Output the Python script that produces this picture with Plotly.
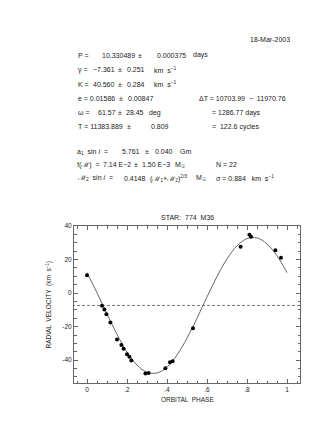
import plotly.graph_objects as go

# observed radial velocities (phase, km/s)
phase = [0.000, 0.075, 0.087, 0.097, 0.117, 0.150, 0.172, 0.183, 0.200, 0.212, 0.222,
         0.292, 0.308, 0.392, 0.415, 0.428, 0.530, 0.768, 0.812, 0.820, 0.942, 0.970]
rv = [10.6, -7.6, -9.8, -12.6, -17.6, -27.6, -31.0, -33.2, -36.4, -38.0, -40.2,
      -48.0, -47.6, -44.8, -41.2, -40.6, -21.0, 27.6, 34.8, 33.6, 25.6, 21.0]

# fitted orbit
curve_phase = [0.00, 0.05, 0.10, 0.15, 0.20, 0.25, 0.30, 0.35, 0.40, 0.45, 0.50,
               0.55, 0.60, 0.65, 0.70, 0.75, 0.80, 0.85, 0.90, 0.95, 1.00]
curve_rv = [12.2, 0.2, -12.4, -24.6, -35.1, -42.9, -47.2, -47.6, -44.1, -36.9, -26.9,
            -15.0, -2.3, 9.9, 20.4, 28.2, 32.5, 32.9, 29.3, 22.2, 12.2]

gamma = -7.361

x_ticks = [0, 0.2, 0.4, 0.6, 0.8, 1.0]
x_ticktext = ["0", ".2", ".4", ".6", ".8", "1"]
y_ticks = [-40, -20, 0, 20, 40]
y_ticktext = ["-40", "-20", "0", "20", "40"]

FONT = "Liberation Sans, Arial, Helvetica, sans-serif"
INK = "#222222"
GREY = "#555555"

# plot area in pixels (for placing the header text)
L, R, T, B = 66, 292, 218, 375


def px(x):
    return (x - L) / (R - L)


def py(y):
    return (B - y) / (B - T)


fig = go.Figure()

fig.add_trace(go.Scatter(
    x=[-0.1, 1.1], y=[gamma, gamma], mode="lines",
    line=dict(color=GREY, width=0.8, dash="3px,2px"), hoverinfo="skip"))

fig.add_trace(go.Scatter(
    x=curve_phase, y=curve_rv, mode="lines", line_shape="spline",
    line=dict(color=GREY, width=0.9), hoverinfo="skip"))

fig.add_trace(go.Scatter(
    x=phase, y=rv, mode="markers",
    marker=dict(color="black", size=4)))

# header text: (x px, y px, text)
txt = [
    (240, 32, "18-Mar-2003"),
    (67.5, 47, "P ="), (91.5, 47, "10.330489"), (128, 47, "±"), (146.5, 47, "0.000375"), (183, 47, "days"),
    (67.5, 61.5, "γ ="), (83, 61.5, "−7.361"), (107.5, 61.5, "±"), (116.5, 61.5, "0.251"),
    (144, 61.5, "km  s<sup>−1</sup>"),
    (67.5, 76, "K ="), (83, 76, "40.560"), (108, 76, "±"), (116.5, 76, "0.284"),
    (144, 76, "km  s<sup>−1</sup>"),
    (67.5, 90, "e = 0.01586"), (108.5, 90, "±"), (118, 90, "0.00847"),
    (189, 90, "ΔT = 10703.99  −  11970.76"),
    (67.5, 104.5, "ω ="), (88, 104.5, "61.57"), (108, 104.5, "±"), (116, 104.5, "28.45"), (139, 104.5, "deg"),
    (202, 104.5, "= 1286.77 days"),
    (67.5, 118.5, "T = 11383.889"), (116.5, 118.5, "±"), (141, 118.5, "0.809"),
    (202, 118.5, "=  122.6 cycles"),
    (66.5, 143.5, "a<sub>1</sub>  sin <i>i</i>  ="), (111.5, 143.5, "5.761"), (135, 143.5, "±"),
    (145, 143.5, "0.040"), (170, 143.5, "Gm"),
    (66.5, 156.5, "f(ℳ)  ="), (92.5, 156.5, "7.14 E−2"), (124, 156.5, "±"), (131.5, 156.5, "1.50 E−3"),
    (165, 156.5, "M<sub>☉</sub>"), (205.5, 156.5, "N = 22"),
    (66.5, 170, "ℳ<sub>2</sub>  sin <i>i</i>  ="), (114, 170, "0.4148"),
    (140, 170, "(ℳ<sub>1</sub>+ℳ<sub>2</sub>)<sup>2/3</sup>"), (186, 170, "M<sub>☉</sub>"),
    (205.5, 170, "σ = 0.884   km  s<sup>−1</sup>"),
]

annotations = [
    dict(x=px(x), y=py(y), xref="paper", yref="paper", text=t, showarrow=False,
         xanchor="left", yanchor="middle", font=dict(family=FONT, size=7, color=INK))
    for x, y, t in txt
]

annotations += [
    dict(x=0.5, y=py(209), xref="paper", yref="paper", text="STAR:  774  M36", showarrow=False,
         xanchor="center", yanchor="middle", font=dict(family=FONT, size=7, color=INK)),
    dict(x=0.5, y=py(391), xref="paper", yref="paper", text="ORBITAL  PHASE", showarrow=False,
         xanchor="center", yanchor="middle", font=dict(family=FONT, size=6.5, color=INK)),
    dict(x=px(41), y=0.5, xref="paper", yref="paper", text="RADIAL  VELOCITY  (km  s<sup>−1</sup>)",
         showarrow=False, textangle=-90, xanchor="center", yanchor="middle",
         font=dict(family=FONT, size=6.5, color=INK)),
]

axis_common = dict(
    showgrid=False, zeroline=False, showline=True, linecolor="#666666", linewidth=1,
    mirror="allticks", ticks="inside", ticklen=4, tickwidth=0.8, tickcolor="#666666",
    tickfont=dict(family=FONT, size=6.5, color=INK),
)

fig.update_layout(
    width=327, height=423,
    margin=dict(l=L, r=327 - R, t=T, b=423 - B),
    paper_bgcolor="white", plot_bgcolor="white",
    showlegend=False,
    font=dict(family=FONT, size=7, color=INK),
    annotations=annotations,
    xaxis=dict(range=[-0.065, 1.065], tickvals=x_ticks, ticktext=x_ticktext,
               minor=dict(dtick=0.05, tick0=0, ticks="inside", ticklen=2.5, tickcolor="#666666"),
               **axis_common),
    yaxis=dict(range=[-53.6, 40], tickvals=y_ticks, ticktext=y_ticktext,
               minor=dict(dtick=5, tick0=0, ticks="inside", ticklen=2.5, tickcolor="#666666"),
               **axis_common),
)

fig.write_html("out.html")
